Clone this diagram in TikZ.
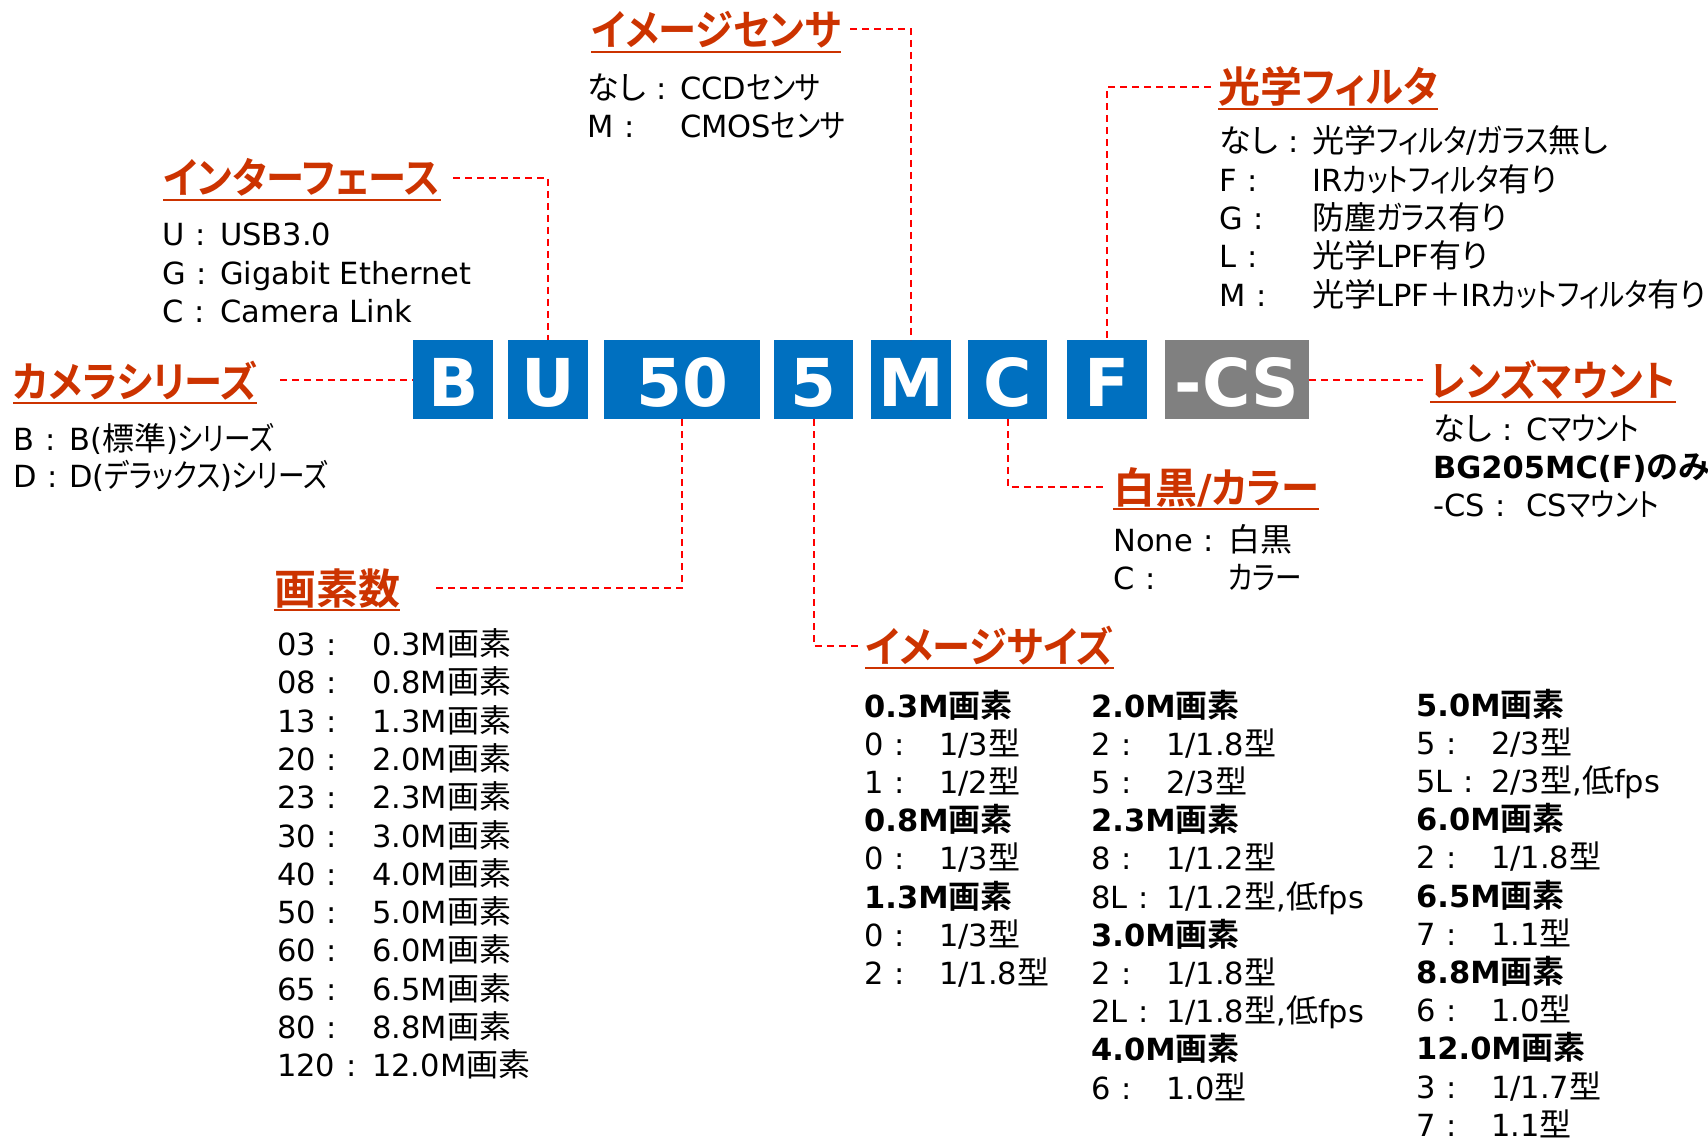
\documentclass[tikz,border=0pt]{standalone}
\usepackage{fontspec}
\setmainfont{DejaVu Sans}
\newfontfamily\jp[Scale=1.05,RawFeature={+palt},BoldFont={Noto Sans CJK JP Bold}]{Noto Sans CJK JP}
\newfontfamily\jpkN[Scale=1.05,RawFeature={+palt},FakeStretch=0.83,BoldFont={Noto Sans CJK JP Bold}]{Noto Sans CJK JP}
\newfontfamily\jpkH[Scale=1.05,RawFeature={+palt},FakeStretch=0.91,BoldFont={Noto Sans CJK JP Bold}]{Noto Sans CJK JP}
\let\jpkcur\jpkN
\XeTeXinterchartokenstate=1
\chardef\JPclass=7
\chardef\KAclass=8
\makeatletter
\count@="3000
\loop\ifnum\count@<"A000 \XeTeXcharclass\count@=\JPclass \advance\count@\@ne\repeat
\count@="FF00
\loop\ifnum\count@<"FFF0 \XeTeXcharclass\count@=\JPclass \advance\count@\@ne\repeat
\count@="30A0
\loop\ifnum\count@<"3100 \XeTeXcharclass\count@=\KAclass \advance\count@\@ne\repeat
\count@="21
\loop\ifnum\count@<"7F \XeTeXcharclass\count@=0 \advance\count@\@ne\repeat
\makeatother
\XeTeXinterchartoks 0 \JPclass = {\jp}
\XeTeXinterchartoks 4095 \JPclass = {\jp}
\XeTeXinterchartoks \JPclass 0 = {\rmfamily}
\XeTeXinterchartoks \JPclass 4095 = {\rmfamily}
\XeTeXinterchartoks 0 \KAclass = {\jpkcur}
\XeTeXinterchartoks 4095 \KAclass = {\jpkcur}
\XeTeXinterchartoks \JPclass \KAclass = {\jpkcur}
\XeTeXinterchartoks \KAclass \JPclass = {\jp}
\XeTeXinterchartoks \KAclass 0 = {\rmfamily}
\XeTeXinterchartoks \KAclass 4095 = {\rmfamily}
\newcommand\kv[3]{\makebox[#1pt][l]{#2\hspace{11pt}:}#3}
\definecolor{hd}{RGB}{204,51,0}
\definecolor{boxblue}{RGB}{0,112,192}
\definecolor{boxgray}{RGB}{128,128,128}
\tikzset{
  codebox/.style={fill=boxblue, text=white, font=\fontsize{66}{70}\selectfont\bfseries,
    inner sep=0pt, minimum height=79pt, text height=53pt, text depth=0pt, anchor=west},
  head/.style={text=hd, font=\fontsize{40}{48}\selectfont\bfseries\let\jpkcur\jpkH, inner sep=0pt, anchor=base west},
  body/.style={font=\fontsize{30.5}{36}\selectfont, inner sep=0pt, anchor=base west},
  conn/.style={draw=red, line width=2pt, dash pattern=on 7pt off 5pt},
  uline/.style={draw=hd, line width=2.5pt},
}
\begin{document}
\begin{tikzpicture}[x=1pt,y=-1pt]
\fill[white] (0,0) rectangle (1708,1142);
\useasboundingbox (0,0) rectangle (1708,1142);

% code boxes
\node[codebox, minimum width=80pt] (bB) at (413,379.5) {B};
\node[codebox, minimum width=80pt] (bU) at (508,379.5) {U};
\node[codebox, minimum width=156pt] (b50) at (604,379.5) {50};
\node[codebox, minimum width=79pt] (b5) at (774,379.5) {5};
\node[codebox, minimum width=80pt] (bM) at (871,379.5) {M};
\node[codebox, minimum width=79pt] (bC) at (968,379.5) {C};
\node[codebox, minimum width=80pt] (bF) at (1067,379.5) {F};
\node[codebox, minimum width=144pt, fill=boxgray] (bCS) at (1165,379.5) {-CS};

% headings
\node[head] (hCam) at (13,397) {カメラシリーズ};
\node[head] (hIF) at (163,194) {インターフェース};
\node[head] (hIS) at (591,46) {イメージセンサ};
\node[head] (hOF) at (1218,103) {光学フィルタ};
\node[head] (hLM) at (1430,396) {レンズマウント};
\node[head] (hBW) at (1113,503) {白黒/カラー};
\node[head] (hPX) at (274,604) {画素数};
\node[head] (hSZ) at (865,662) {イメージサイズ};
\foreach \h in {hCam,hIF,hIS,hOF,hLM,hBW,hPX,hSZ}
  \draw[uline] ([yshift=-6pt]\h.base west) -- ([yshift=-6pt]\h.base east);

% connectors
\coordinate (cCam) at (280,379.5);
\coordinate (cIF) at (453,178);
\coordinate (cIS) at (850,29);
\coordinate (cOF) at (1211,87);
\coordinate (cLM) at (1423,379.5);
\coordinate (cBW) at (1103,487);
\coordinate (cPX) at (436,588);
\coordinate (cSZ) at (858,646);
\draw[conn] (cCam) -- (bB.west);
\draw[conn] (cIF) -| (bU.north);
\draw[conn] (cIS) -| (bM.north);
\draw[conn] (cOF) -| (bF.north);
\draw[conn] (bCS.east) -- (cLM);
\draw[conn] (bC.south) |- (cBW);
\draw[conn] (cPX) -| (b50.south);
\draw[conn] (b5.south) |- (cSZ);

% camera series
\foreach \t [count=\i] in {{\kv{56}{B}{B(標準)シリーズ}},{\kv{56}{D}{D(デラックス)シリーズ}}}
  \node[body] (cam\i) at (13,{450+(\i-1)*37.5}) {\t};
% interface
\foreach \t [count=\i] in {{\kv{58}{U}{USB3.0}},{\kv{58}{G}{Gigabit Ethernet}},{\kv{58}{C}{Camera Link}}}
  \node[body] (if\i) at (162,{246+(\i-1)*38}) {\t};
% image sensor
\foreach \t [count=\i] in {{\kv{93}{なし}{CCDセンサ}},{\kv{93}{M}{CMOSセンサ}}}
  \node[body] (is\i) at (587,{100+(\i-1)*38}) {\t};
% optical filter
\foreach \t [count=\i] in {{\kv{93}{なし}{光学フィルタ/ガラス無し}},{\kv{93}{F}{IRカットフィルタ有り}},{\kv{93}{G}{防塵ガラス有り}},{\kv{93}{L}{光学LPF有り}},{\kv{93}{M}{光学LPF＋IRカットフィルタ有り}}}
  \node[body] (of\i) at (1219,{153+(\i-1)*38.25}) {\t};
% lens mount
\foreach \t [count=\i] in {{\kv{93}{なし}{Cマウント}},{\textbf{BG205MC(F)のみ}},{\kv{93}{-CS}{CSマウント}}}
  \node[body] (lm\i) at (1433,{440+(\i-1)*38}) {\t};
% mono/colour
\foreach \t [count=\i] in {{\kv{115}{None}{白黒}},{\kv{115}{C}{カラー}}}
  \node[body] (bw\i) at (1113,{551+(\i-1)*38}) {\t};
% pixel count
\foreach \t [count=\i] in {{\kv{95}{03}{0.3M画素}},{\kv{95}{08}{0.8M画素}},{\kv{95}{13}{1.3M画素}},{\kv{95}{20}{2.0M画素}},{\kv{95}{23}{2.3M画素}},{\kv{95}{30}{3.0M画素}},{\kv{95}{40}{4.0M画素}},{\kv{95}{50}{5.0M画素}},{\kv{95}{60}{6.0M画素}},{\kv{95}{65}{6.5M画素}},{\kv{95}{80}{8.8M画素}},{\kv{95}{120}{12.0M画素}}}
  \node[body] (px\i) at (277,{655.5+(\i-1)*38.3}) {\t};
% image size col 1
\foreach \t [count=\i] in {{\textbf{0.3M画素}},{\kv{75}{0}{1/3型}},{\kv{75}{1}{1/2型}},{\textbf{0.8M画素}},{\kv{75}{0}{1/3型}},{\textbf{1.3M画素}},{\kv{75}{0}{1/3型}},{\kv{75}{2}{1/1.8型}}}
  \node[body] (sa\i) at (864,{717+(\i-1)*38.2}) {\t};
% image size col 2
\foreach \t [count=\i] in {{\textbf{2.0M画素}},{\kv{75}{2}{1/1.8型}},{\kv{75}{5}{2/3型}},{\textbf{2.3M画素}},{\kv{75}{8}{1/1.2型}},{\kv{75}{8L}{1/1.2型,低fps}},{\textbf{3.0M画素}},{\kv{75}{2}{1/1.8型}},{\kv{75}{2L}{1/1.8型,低fps}},{\textbf{4.0M画素}},{\kv{75}{6}{1.0型}}}
  \node[body] (sb\i) at (1091,{717+(\i-1)*38.2}) {\t};
% image size col 3
\foreach \t [count=\i] in {{\textbf{5.0M画素}},{\kv{75}{5}{2/3型}},{\kv{75}{5L}{2/3型,低fps}},{\textbf{6.0M画素}},{\kv{75}{2}{1/1.8型}},{\textbf{6.5M画素}},{\kv{75}{7}{1.1型}},{\textbf{8.8M画素}},{\kv{75}{6}{1.0型}},{\textbf{12.0M画素}},{\kv{75}{3}{1/1.7型}},{\kv{75}{7}{1.1型}}}
  \node[body] (sc\i) at (1416,{716+(\i-1)*38.2}) {\t};
\end{tikzpicture}
\end{document}
